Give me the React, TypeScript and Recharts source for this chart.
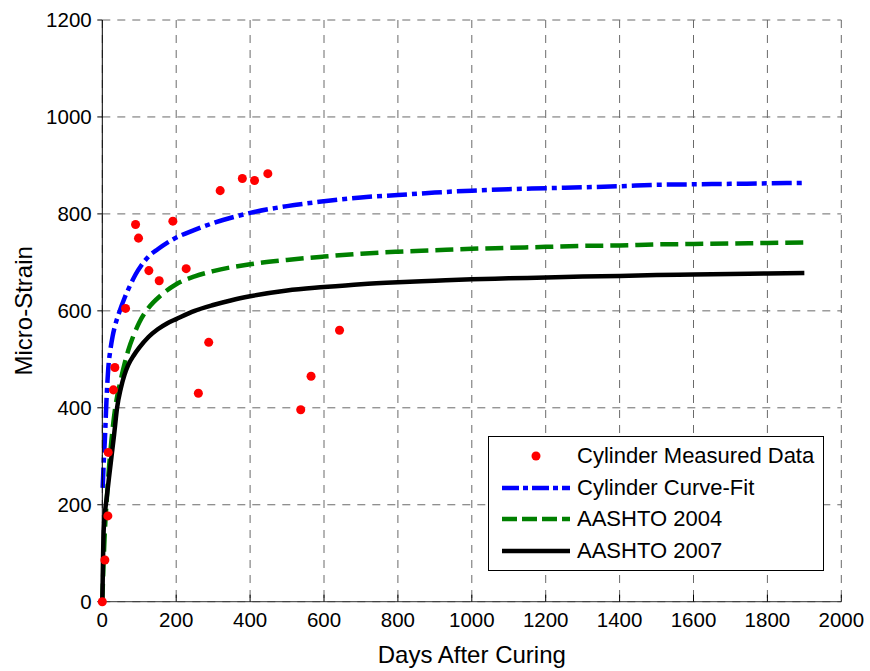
import {
  ComposedChart, Line, Scatter, XAxis, YAxis, CartesianGrid, Legend,
} from 'recharts'

const FONT = '"Liberation Sans", Arial, Helvetica, sans-serif'

const X_TICKS = [0, 200, 400, 600, 800, 1000, 1200, 1400, 1600, 1800, 2000]
const Y_TICKS = [0, 200, 400, 600, 800, 1000, 1200]

// red dots
const MEASURED_DAYS = [0, 7, 15, 16, 30, 34, 63, 90, 98, 126, 154, 191, 227, 260, 288, 319, 379, 412, 448, 537, 565, 642]
const MEASURED_STRAIN = [0, 86, 177, 308, 437, 483, 605, 778, 750, 683, 662, 785, 687, 430, 535, 848, 873, 869, 883, 396, 465, 560]

const FIT_DAYS = [1, 4, 7, 11, 16, 22, 28, 34, 45, 61, 75, 90, 105, 125, 150, 190, 250, 300, 400, 500, 600, 700, 800, 900, 1000, 1100, 1200, 1300, 1400, 1500, 1600, 1700, 1800, 1900]
const FIT_STRAIN = [235, 290, 335, 410, 480, 520, 548, 568, 595, 628, 652, 675, 693, 712, 727, 747, 767, 781, 802, 816, 826, 834, 839, 844, 848, 851, 853, 855, 857, 860, 861, 862, 863, 864]

const A04_DAYS = [0, 3, 6, 12, 18, 25, 35, 48, 60, 70, 85, 100, 125, 160, 200, 250, 300, 400, 500, 600, 700, 800, 900, 1000, 1100, 1200, 1300, 1400, 1500, 1600, 1700, 1800, 1900]
const A04_STRAIN = [0, 70, 130, 210, 275, 335, 400, 451, 490, 518, 550, 576, 606, 633, 655, 671, 682, 696, 705, 712, 718, 722, 725, 728, 730, 732, 734, 735, 737, 738, 739, 740, 741]

const A07_DAYS = [0, 1, 2, 3, 5, 8, 12, 18, 25, 32, 40, 50, 60, 70, 85, 100, 125, 150, 175, 200, 250, 300, 350, 400, 500, 600, 700, 800, 900, 1000, 1100, 1200, 1300, 1400, 1500, 1600, 1700, 1800, 1900]
const A07_STRAIN = [0, 40, 90, 130, 165, 190, 215, 255, 300, 345, 400, 440, 468, 488, 508, 524, 546, 562, 574, 583, 600, 612, 622, 630, 642, 649, 655, 659, 662, 665, 667, 669, 671, 672, 674, 675, 676, 677, 678]

const toPoints = (days: number[], strain: number[]) =>
  days.map((t, i) => ({ t, v: strain[i] }))

const measured = toPoints(MEASURED_DAYS, MEASURED_STRAIN)
const curveFit = toPoints(FIT_DAYS, FIT_STRAIN)
const aashto2004 = toPoints(A04_DAYS, A04_STRAIN)
const aashto2007 = toPoints(A07_DAYS, A07_STRAIN)

const LEGEND_ROWS = [
  { name: 'Cylinder Measured Data', color: '#ff0000', dash: undefined, dot: true },
  { name: 'Cylinder Curve-Fit', color: '#0000ff', dash: '17 4 5 4', dot: false },
  { name: 'AASHTO 2004', color: '#008000', dash: '15 5', dot: false },
  { name: 'AASHTO 2007', color: '#000000', dash: undefined, dot: false },
]

function LegendBox() {
  return (
    <div
      style={{
        boxSizing: 'border-box',
        width: 336,
        height: 135,
        border: '1px solid #000',
        background: '#fff',
        paddingTop: 3,
        fontFamily: FONT,
        fontSize: 22,
        color: '#000',
      }}
    >
      {LEGEND_ROWS.map(row => (
        <div key={row.name} style={{ display: 'flex', alignItems: 'center', height: 31.7 }}>
          <svg width={68} height={12} style={{ marginLeft: 13, marginRight: 7 }}>
            {row.dot
              ? <circle cx={34} cy={6} r={4.5} fill={row.color} />
              : <line x1={0} y1={6} x2={68} y2={6} stroke={row.color} strokeWidth={4.5} strokeDasharray={row.dash} />}
          </svg>
          <span style={{ whiteSpace: 'nowrap', lineHeight: 1 }}>{row.name}</span>
        </div>
      ))}
    </div>
  )
}

export default function App() {
  return (
    <div style={{ fontFamily: FONT }}>
      <style>{'html, body { margin: 0; padding: 0; overflow: hidden; }'}</style>
      <ComposedChart
        width={870}
        height={671}
        margin={{ top: 20, right: 28.7, bottom: 0, left: 42.3 }}
      >
        <CartesianGrid strokeDasharray="8 7" stroke="#6a6a6a" />
        <XAxis
          type="number"
          dataKey="t"
          domain={[0, 2000]}
          ticks={X_TICKS}
          interval={0}
          height={69.3}
          tickSize={-7}
          tickMargin={17.4}
          axisLine={{ stroke: '#333' }}
          tickLine={{ stroke: '#000' }}
          tick={{ fontSize: 20.5, fill: '#000', fontFamily: FONT }}
          label={{ value: 'Days After Curing', position: 'insideBottom', offset: 7.7, fontSize: 24, fill: '#000', fontFamily: FONT }}
        />
        <YAxis
          type="number"
          domain={[0, 1200]}
          ticks={Y_TICKS}
          interval={0}
          width={60}
          tickSize={5}
          tickMargin={5.6}
          axisLine={{ stroke: '#000' }}
          tickLine={{ stroke: '#000' }}
          tick={{ fontSize: 20.5, fill: '#000', fontFamily: FONT }}
          label={{
            value: 'Micro-Strain',
            angle: -90,
            position: 'insideLeft',
            offset: -19.1,
            fontSize: 24,
            fill: '#000',
            fontFamily: FONT,
            style: { textAnchor: 'middle' },
          }}
        />
        <Legend
          layout="vertical"
          align="center"
          verticalAlign="middle"
          wrapperStyle={{ left: 488, top: 436, width: 336, height: 135 }}
          content={() => <LegendBox />}
        />
        <Scatter
          name="Cylinder Measured Data"
          data={measured}
          dataKey="v"
          fill="#ff0000"
          isAnimationActive={false}
        />
        <Line
          name="Cylinder Curve-Fit"
          data={curveFit}
          dataKey="v"
          type="monotone"
          stroke="#0000ff"
          strokeWidth={4.5}
          strokeDasharray="20 5 5 5"
          dot={false}
          activeDot={false}
          isAnimationActive={false}
        />
        <Line
          name="AASHTO 2004"
          data={aashto2004}
          dataKey="v"
          type="monotone"
          stroke="#008000"
          strokeWidth={4.5}
          strokeDasharray="18 7"
          dot={false}
          activeDot={false}
          isAnimationActive={false}
        />
        <Line
          name="AASHTO 2007"
          data={aashto2007}
          dataKey="v"
          type="monotone"
          stroke="#000000"
          strokeWidth={4.5}
          dot={false}
          activeDot={false}
          isAnimationActive={false}
        />
      </ComposedChart>
    </div>
  )
}
